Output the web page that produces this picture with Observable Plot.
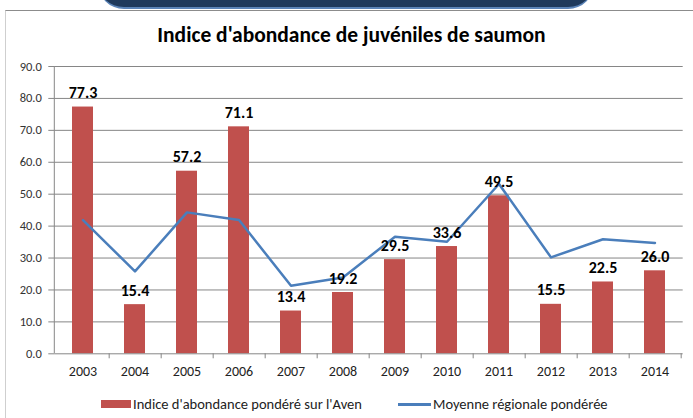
<!DOCTYPE html>
<html>
<head>
<meta charset="utf-8">
<script src="https://cdn.jsdelivr.net/npm/d3@7"></script>
<script src="https://cdn.jsdelivr.net/npm/@observablehq/plot@0.6"></script>
<style>
  html, body { margin: 0; padding: 0; background: #fff; }
  body { width: 693px; height: 418px; position: relative; overflow: hidden; font-family: Carlito, Lato, "Open Sans", sans-serif; }
  #deco { position: absolute; left: 98px; top: -22px; width: 496px; height: 29px; background: #1f3a5c; border-radius: 0 0 26px 26px; border-bottom: 2px solid #5b84b8; }
  #frame { position: absolute; left: 5px; top: 10px; width: 700px; height: 420px; border-top: 1px solid #8c8c8c; border-left: 1px solid #cfcfcf; }
  #title { position: absolute; left: 0; width: 703px; top: 22px; text-align: center; font-weight: bold; font-size: 21.5px; color: #000; }
  #chart { position: absolute; left: 0; top: 0; }
  .leg { position: absolute; top: 395px; font-size: 14.5px; color: #222; white-space: nowrap; }
  .sw { position: absolute; }
</style>
</head>
<body>
<div id="deco"></div>
<div id="frame"></div>
<div id="chart"></div>
<div id="title">Indice d'abondance de juvéniles de saumon</div>
<div class="sw" style="left:101px;top:400px;width:30px;height:8px;background:#c0504d"></div>
<div class="leg" style="left:133px">Indice d'abondance pondéré sur l'Aven</div>
<div class="sw" style="left:398px;top:403px;width:33px;height:2.5px;background:#4a7ebb"></div>
<div class="leg" style="left:433px">Moyenne régionale pondérée</div>
<script>
const years = ["2003","2004","2005","2006","2007","2008","2009","2010","2011","2012","2013","2014"];
const avenIndex = [77.3, 15.4, 57.2, 71.1, 13.4, 19.2, 29.5, 33.6, 49.5, 15.5, 22.5, 26.0];
const regionalMean = [41.9, 25.8, 44.3, 41.9, 21.3, 23.9, 36.7, 35.1, 53.2, 30.2, 35.9, 34.7];
const yTicks = [0, 10, 20, 30, 40, 50, 60, 70, 80, 90];

const bars = years.map((y, i) => ({year: y, value: avenIndex[i]}));
const line = years.map((y, i) => ({year: y, value: regionalMean[i]}));

const W = 693, H = 418, mL = 54.3, mR = 10.3, mT = 66, mB = 64.7;
const pIn = 0.6, pOut = 0.3;
const step = (W - mL - mR) / (years.length - pIn + 2 * pOut);

const chart = Plot.plot({
  width: W, height: H,
  marginLeft: mL, marginRight: mR, marginTop: mT, marginBottom: mB,
  style: {fontFamily: "Carlito, Lato, 'Open Sans', sans-serif", background: "transparent", overflow: "visible"},
  x: {domain: years, paddingInner: pIn, paddingOuter: pOut, align: 0.5, label: null},
  y: {domain: [0, 90], label: null},
  marks: [
    Plot.ruleY(yTicks.filter(d => d > 0), {stroke: "#868686", strokeWidth: 1, strokeOpacity: 1}),
    Plot.barY(bars, {x: "year", y: "value", fill: "#c0504d"}),
    Plot.line(line, {x: "year", y: "value", stroke: "#4a7ebb", strokeWidth: 2.5, strokeLinejoin: "round"}),
    Plot.text(bars, {x: "year", y: "value", text: d => d.value.toFixed(1), lineAnchor: "bottom", dy: -9, fontWeight: "bold", fontSize: 16, fill: "#000"}),
    Plot.ruleY([0], {stroke: "#868686", strokeWidth: 1}),
    Plot.axisY({ticks: yTicks, tickFormat: d => d.toFixed(1), tickSize: 6, tickPadding: 7, fontSize: 12.5, stroke: "#868686", fill: "#333", label: null}),
    Plot.axisX({tickSize: 0, tickPadding: 12, fontSize: 14, fill: "#222", label: null}),
    Plot.axisX({tickSize: 5, tickFormat: () => "", dx: step / 2, stroke: "#868686", label: null})
  ]
});
const svg = d3.select(chart);
svg.append("line").attr("x1", mL).attr("x2", mL).attr("y1", mT).attr("y2", H - mB).attr("stroke", "#868686");
document.getElementById("chart").appendChild(chart);
</script>
</body>
</html>
